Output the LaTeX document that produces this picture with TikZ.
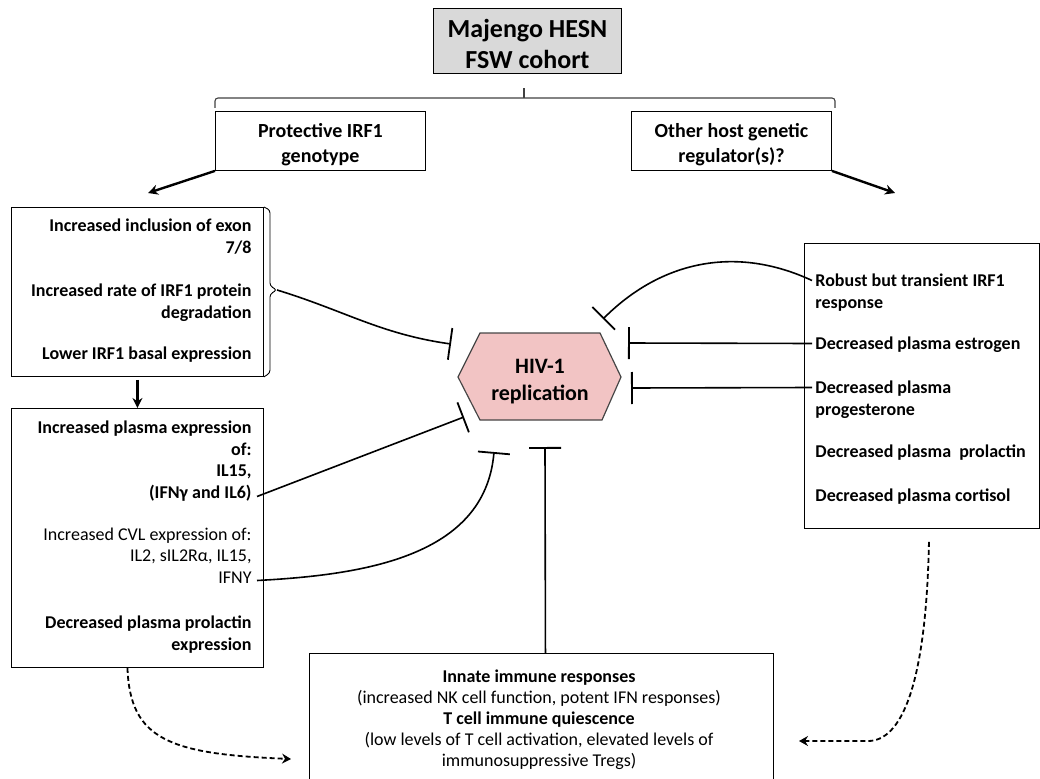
\documentclass[tikz,border=0pt]{standalone}
\usepackage{fontspec}
\setmainfont{Carlito}
\usepackage{xcolor}
\usetikzlibrary{arrows.meta}
\definecolor{cohortgray}{RGB}{217,217,217}
\definecolor{hexpink}{RGB}{242,196,196}
\definecolor{hexline}{RGB}{70,70,70}

\begin{document}
\begin{tikzpicture}
	[x=1pt,y=-1pt,line width=0.9,
	box/.style = {
		draw, anchor=north west, inner sep=0pt
	},
	headtext/.style = {
		align=center, inner sep=0pt, font=\bfseries\fontsize{20}{25}\selectfont
	},
	item/.style = {
		inner sep=0pt, font=\bfseries\fontsize{18}{21.5}\selectfont
	},
	itemleft/.style = {
		item, align=right, anchor=north east
	},
	itemright/.style = {
		item, align=left, anchor=north west
	},
	inhibit/.style = {
		line width=1.6, -{Bar[width=32pt,line width=1.8pt]}
	},
	thickarrow/.style = {
		line width=2.4, -{Stealth[length=10pt,width=10pt]}
	},
	dasharrow/.style = {
		line width=1.8, dash pattern=on 5pt off 3pt,
		-{Stealth[length=9pt,width=10pt,inset=3pt]}
	}]
	\clip (0,0) rectangle (1040,778);

	%Draw nodes
	\node[box, fill=cohortgray, minimum width=188pt, minimum height=65pt] (cohort) at (433,8) {};
	\node[headtext, font=\bfseries\fontsize{26}{31}\selectfont] (cohortlabel) at ([yshift=-3pt]cohort.center) {Majengo HESN\\FSW cohort};
	\node[box, minimum width=210pt, minimum height=59pt] (irf) at (215,111) {};
	\node[headtext] (irflabel) at ([yshift=-4pt]irf.center) {Protective IRF1\\genotype};
	\node[box, minimum width=200pt, minimum height=59pt] (other) at (631,111) {};
	\node[headtext] (otherlabel) at ([yshift=-4pt]other.center) {Other host genetic\\regulator(s)?};
	\node[box, minimum width=252pt, minimum height=169pt] (irfbox) at (11,207) {};
	\node[box, minimum width=252pt, minimum height=259pt] (plasbox) at (11,408) {};
	\node[box, minimum width=235pt, minimum height=285pt] (hostbox) at (804,243) {};
	\node[box, minimum width=464pt, minimum height=150pt] (immune) at (309,653) {};
	\filldraw[fill=hexpink, draw=hexline, line width=1.2]
		(458,377) -- (480,333) -- (600,333) -- (621,377) -- (602,420) -- (480,420) -- cycle;
	\node[font=\bfseries\fontsize{22}{27}\selectfont, align=center] (hiv) at (540,382) {HIV-1\\replication};

	\node[itemleft] (exon) at (252,218.5) {Increased inclusion of exon\\7/8};
	\node[itemleft] (degr) at (252,283.5) {Increased rate of IRF1 protein\\degradation};
	\node[itemleft] (basal) at (252,346.5) {Lower IRF1 basal expression};
	\node[itemleft] (plasma) at (252,420.5) {Increased plasma expression\\of:\\IL15,\\(IFNγ and IL6)};
	\node[itemleft, font=\fontsize{18}{21.5}\selectfont] (cvl) at (252,527.5) {Increased CVL expression of:\\IL2, sIL2Rα, IL15,\\IFNY};
	\node[itemleft] (prlexp) at (252,615.5) {Decreased plasma prolactin\\expression};
	\node[itemright] (robust) at (815,273.5) {Robust but transient IRF1\\response};
	\node[itemright] (estrogen) at (815,336.5) {Decreased plasma estrogen};
	\node[itemright] (proges) at (815,380.5) {Decreased plasma\\progesterone};
	\node[itemright] (prolac) at (815,444.5) {Decreased plasma\ \ prolactin};
	\node[itemright] (cortisol) at (815,488.5) {Decreased plasma cortisol};
	\node[align=center, anchor=north, inner sep=0pt, font=\fontsize{18}{21}\selectfont] (immunetext) at (539,669.5)
		{\textbf{Innate immune responses}\\(increased NK cell function, potent IFN responses)\\\textbf{T cell immune quiescence}\\(low levels of T cell activation, elevated levels of\\immunosuppressive Tregs)};

	\coordinate (brace) at (277,290);
	\coordinate (barA) at (451,344);
	\coordinate (barB) at (464,417);
	\coordinate (barC) at (494,452);
	\coordinate (barD) at (603,319);
	\coordinate (barE) at (628,343);
	\coordinate (barF) at (631,388);
	\coordinate (barG) at (545,447);
	\coordinate (irftip) at (148,193);
	\coordinate (othertip) at (895,193);
	\coordinate (leftend) at (291,759);
	\coordinate (rightend) at (799,741);

	%Draw wires
	\draw[line width=1.1, draw=black!75, rounded corners=3pt] (215,108) -- (215,98) -- (835,98) -- (835,108);
	\draw[line width=1.1, draw=black!75] (524,98) -- (524,88);
	\draw[rounded corners=3pt] (irfbox.north east) -- (270,210) -- (270,286) -- (brace) -- (270,294) -- (270,373) -- (irfbox.south east);
	\draw[thickarrow] (irf.south west) -- (irftip);
	\draw[thickarrow] (other.south east) -- (othertip);
	\draw[thickarrow, shorten <=3pt] (irfbox.south) -- (plasbox.north);
	\draw[inhibit] (brace) to[out=-17,in=172] (barA);
	\draw[inhibit] ([xshift=5pt,yshift=-76pt]plasma.north east) -- (barB);
	\draw[inhibit] ([xshift=5pt,yshift=-53pt]cvl.north east) to[out=3,in=-95] (barC);
	\draw[inhibit] ([xshift=-3pt,yshift=-7pt]robust.north west) to[out=155,in=45] (barD);
	\draw[inhibit] ([xshift=-3pt,yshift=-7pt]estrogen.north west) -- (barE);
	\draw[inhibit] ([xshift=-3pt,yshift=-7pt]proges.north west) -- (barF);
	\draw[inhibit] ([xshift=4pt]immune.north) -- (barG);
	\draw[dasharrow] ([xshift=-10pt]plasbox.south) .. controls (130,740) and (170,754) .. (leftend);
	\draw[dasharrow] ([xshift=7pt,yshift=-13pt]hostbox.south) .. controls (926,690) and (900,741) .. (868,741) -- (rightend);
\end{tikzpicture}
\end{document}
